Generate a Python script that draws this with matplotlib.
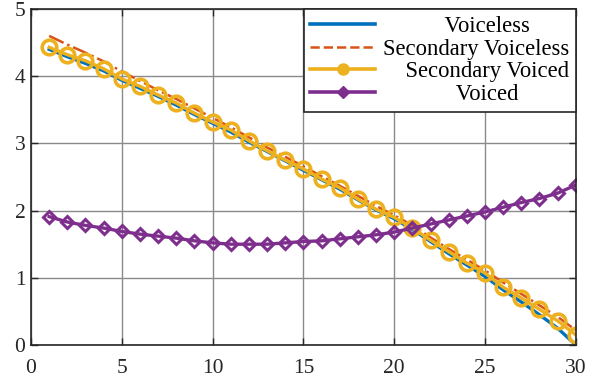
import numpy as np
import matplotlib.pyplot as plt
from matplotlib.lines import Line2D

plt.rcParams['font.family'] = ['Liberation Serif', 'DejaVu Serif']

frames = np.arange(1, 31)

voiceless = [4.40, 4.29, 4.19, 4.08, 3.94, 3.82, 3.70, 3.57, 3.43, 3.30,
             3.17, 3.02, 2.88, 2.74, 2.60, 2.46, 2.32, 2.16, 2.01, 1.88,
             1.72, 1.54, 1.36, 1.19, 1.02, 0.82, 0.64, 0.45, 0.25, 0.00]
secondary_voiceless = [4.60, 4.47, 4.35, 4.22, 4.07, 3.93, 3.79, 3.66, 3.52, 3.38,
                       3.24, 3.09, 2.94, 2.80, 2.66, 2.51, 2.37, 2.22, 2.07, 1.93,
                       1.78, 1.60, 1.43, 1.27, 1.11, 0.93, 0.76, 0.59, 0.42, 0.22]
secondary_voiced = [4.43, 4.32, 4.23, 4.11, 3.96, 3.85, 3.72, 3.60, 3.45, 3.32,
                    3.20, 3.04, 2.89, 2.75, 2.62, 2.47, 2.34, 2.17, 2.02, 1.90,
                    1.74, 1.56, 1.39, 1.22, 1.07, 0.86, 0.70, 0.53, 0.36, 0.15]
voiced = [1.91, 1.83, 1.78, 1.74, 1.69, 1.65, 1.62, 1.59, 1.55, 1.52,
          1.50, 1.50, 1.50, 1.52, 1.54, 1.55, 1.58, 1.61, 1.64, 1.68,
          1.74, 1.80, 1.86, 1.92, 1.98, 2.05, 2.12, 2.18, 2.26, 2.38]

labels = ['Voiceless', 'Secondary Voiceless', 'Secondary Voiced', 'Voiced']
pads = [11, 0, 4, 13]  # leading spaces so the legend text looks centred

c_blue, c_orange, c_yellow, c_purple = '#0072BD', '#D95319', '#EDB120', '#7E2F8E'

fig = plt.figure(figsize=(5.93, 3.83), dpi=100)
ax = fig.add_axes([0.0523, 0.0992, 0.9187, 0.8773])

ax.plot(frames, voiceless, color=c_blue, lw=2.4)
ax.plot(frames, secondary_voiceless, color=c_orange, lw=1.8, ls='-.')
ax.plot(frames, secondary_voiced, color=c_yellow, lw=2.4, marker='o', ms=10.5,
        mfc='none', mew=2.6)
ax.plot(frames, voiced, color=c_purple, lw=2.4, marker='D', ms=6.5,
        mfc='none', mew=2.2)

ax.set_xlim(0, 30)
ax.set_ylim(0, 5)
ax.set_xticks(range(0, 31, 5))
ax.set_yticks(range(0, 6))
ax.grid(True, color='#8a8a8a', lw=1.0)
ax.set_axisbelow(True)
ax.tick_params(direction='in', length=5, width=1, top=True, right=True,
               labelsize=15.5, colors='#262626')
ax.tick_params(axis='x', pad=10)
ax.tick_params(axis='y', pad=4)
for sp in ax.spines.values():
    sp.set_color('#262626')
    sp.set_linewidth(1.2)

# legend handles use filled markers like the original
handles = [
    Line2D([], [], color=c_blue, lw=2.6),
    Line2D([], [], color=c_orange, lw=1.8, ls='--'),
    Line2D([], [], color=c_yellow, lw=2.6, marker='o', ms=8, mfc=c_yellow, mec=c_yellow),
    Line2D([], [], color=c_purple, lw=2.6, marker='D', ms=6, mfc=c_purple, mec=c_purple),
]
leg = ax.legend(handles, [' ' * p + l for p, l in zip(pads, labels)],
                loc='upper right', fontsize=16.3, frameon=True, fancybox=False,
                edgecolor='#262626', framealpha=1, borderaxespad=0,
                handlelength=2.85, handletextpad=0.35, labelspacing=0.08,
                borderpad=0.3)
leg.get_frame().set_linewidth(1.2)

fig.savefig('out.png', dpi=100)
